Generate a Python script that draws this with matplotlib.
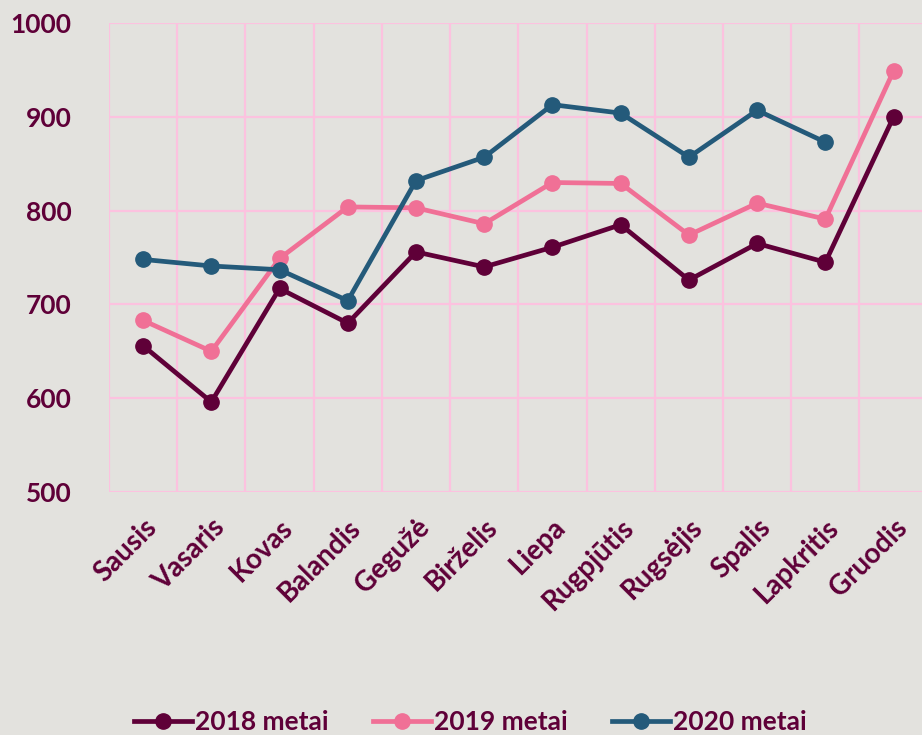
import matplotlib.pyplot as plt
import numpy as np

menesiai = ['Sausis', 'Vasaris', 'Kovas', 'Balandis', 'Gegužė', 'Birželis',
            'Liepa', 'Rugpjūtis', 'Rugsėjis', 'Spalis', 'Lapkritis', 'Gruodis']
m2018 = [656, 596, 717, 680, 756, 740, 761, 785, 726, 765, 745, 900]
m2019 = [683, 650, 749, 804, 803, 786, 830, 829, 774, 808, 791, 949]
m2020 = [748, 741, 737, 704, 832, 857, 913, 904, 857, 907, 873]

bg = '#E3E2DE'
tekstas = '#5F0038'
tinklas = '#FCC2DF'
spalvos = ['#5F0038', '#F07096', '#245A7A']

plt.rcParams['font.family'] = ['Lato', 'DejaVu Sans']
plt.rcParams['font.weight'] = 'bold'

fig = plt.figure(figsize=(9.22, 7.35), dpi=100, facecolor=bg)
ax = fig.add_axes([0.1182, 0.3306, 0.888, 0.638], facecolor=bg)

x = np.arange(len(menesiai))
ax.plot(x, m2018, '-o', color=spalvos[0], lw=3.4, ms=11, label='2018 metai', zorder=3)
ax.plot(x, m2019, '-o', color=spalvos[1], lw=3.4, ms=11, label='2019 metai', zorder=3)
ax.plot(x[:len(m2020)], m2020, '-o', color=spalvos[2], lw=3.4, ms=11, label='2020 metai', zorder=3)

ax.set_xlim(-0.5, 11.5)
ax.set_ylim(500, 1000)
ax.set_yticks([500, 600, 700, 800, 900, 1000])
ax.set_xticks(x)
ax.set_xticks(np.arange(-0.5, 12, 1), minor=True)
ax.set_xticklabels(menesiai, rotation=45, ha='right', rotation_mode='anchor',
                   fontsize=20, color=tekstas, fontweight='bold')
for t in ax.get_yticklabels():
    t.set_fontsize(19)
    t.set_color(tekstas)
    t.set_fontweight('bold')
ax.tick_params(axis='both', which='both', length=0)
ax.tick_params(axis='y', pad=27)
ax.tick_params(axis='x', pad=16)
ax.grid(True, which='minor', axis='x', color=tinklas, lw=1.6)
ax.grid(True, which='major', axis='y', color=tinklas, lw=1.6)
for s in ax.spines.values():
    s.set_visible(False)

leg = fig.legend(loc='center', bbox_to_anchor=(0.51, 0.018), ncol=3, frameon=False,
                 fontsize=19, handlelength=2.2, columnspacing=1.7, handletextpad=0.1)
for t in leg.get_texts():
    t.set_color(tekstas)
    t.set_fontweight('bold')

fig.savefig('out.png', dpi=100, facecolor=bg)
